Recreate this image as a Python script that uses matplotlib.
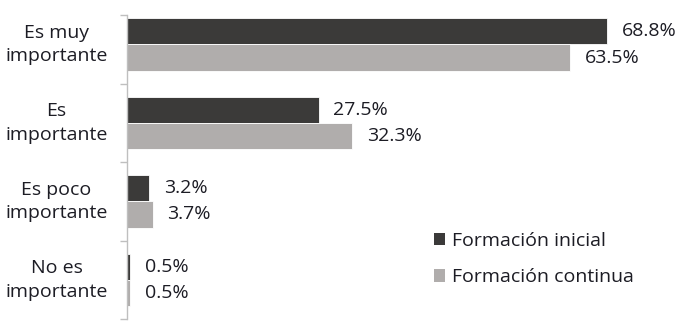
import matplotlib
matplotlib.use("Agg")
import matplotlib.pyplot as plt
from matplotlib.transforms import blended_transform_factory
from matplotlib.patches import Patch

categories = ["Es muy\nimportante", "Es\nimportante", "Es poco\nimportante", "No es\nimportante"]
inicial = [68.8, 27.5, 3.2, 0.5]
continua = [63.5, 32.3, 3.7, 0.5]
series_names = ["Formación inicial", "Formación continua"]

dark = "#3b3a39"
light = "#b0adac"
txt = "#1c1c24"

plt.rcParams['font.family'] = ['Open Sans', 'DejaVu Sans']
fs = 14

fig = plt.figure(figsize=(6.85, 3.28), dpi=100)
W, H = 685, 328
ax = fig.add_axes([127 / W, 1 - 319 / H, (W - 127) / W, (319 - 15) / H])

h = 0.335
ys = list(range(len(categories)))
ax.barh([y - h / 2 for y in ys], inicial, height=h, color=dark, edgecolor="white", linewidth=0.6)
ax.barh([y + h / 2 for y in ys], continua, height=h, color=light, edgecolor="white", linewidth=0.6)

for y, a, b in zip(ys, inicial, continua):
    ax.annotate(f"{a:.1f}%", (a, y - h / 2), xytext=(10.5, 0), textcoords="offset points",
                va="center", ha="left", fontsize=fs, color=txt)
    ax.annotate(f"{b:.1f}%", (b, y + h / 2), xytext=(10.5, 0), textcoords="offset points",
                va="center", ha="left", fontsize=fs, color=txt)

ax.set_xlim(0, 80)
ax.set_ylim(3.5, -0.376)

trans = blended_transform_factory(fig.transFigure, ax.transData)
for y, c in zip(ys, categories):
    ax.text(56.5 / W, y, c, transform=trans, ha="center", va="center",
            fontsize=fs, color=txt, linespacing=1.4)

for s in ["top", "right", "bottom"]:
    ax.spines[s].set_visible(False)
ax.spines["left"].set_color("#bfbfbf")
ax.spines["left"].set_linewidth(1)
ax.set_xticks([])
ax.set_yticks([-0.376, 0.5, 1.5, 2.5, 3.5])
ax.set_yticklabels([])
ax.tick_params(axis="y", length=5, width=1, color="#bfbfbf", direction="out")

handles = [Patch(facecolor=dark), Patch(facecolor=light)]
ax.legend(handles, series_names, loc="center left", bbox_to_anchor=(416 / W, 1 - 259 / H),
          bbox_transform=fig.transFigure, frameon=False, fontsize=fs,
          handlelength=0.6, handleheight=0.6, handletextpad=0.35, labelspacing=0.95,
          labelcolor=txt)

fig.savefig("out.png", dpi=100)
